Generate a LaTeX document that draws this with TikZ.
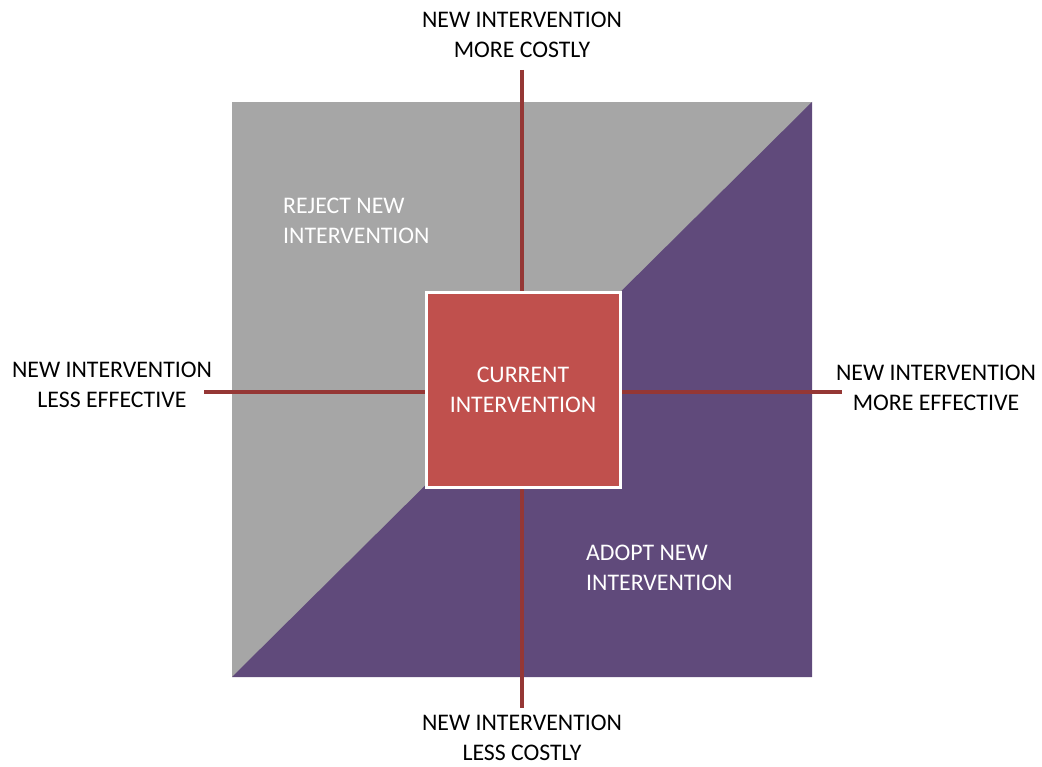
\documentclass[tikz,border=0pt]{standalone}
\usepackage{fontspec}
\setmainfont{Carlito}
\definecolor{rejectgray}{HTML}{A6A6A6}
\definecolor{adoptpurple}{HTML}{604A7B}
\definecolor{axisred}{HTML}{953735}
\definecolor{boxred}{HTML}{C0504D}
\begin{document}
\begin{tikzpicture}[x=1pt,y=-1pt,
  txt/.style={font=\fontsize{23.8}{29.5}\selectfont, inner sep=0pt},
  lbl/.style={txt, align=center, text=black},
  region/.style={txt, align=left, text=white, anchor=north west},
  axis/.style={draw=axisred, line width=4.5pt}]
\useasboundingbox (0,0) rectangle (1042,767);
% plane split along the diagonal
\fill[rejectgray] (232,102) rectangle (812,677);
\fill[adoptpurple] (232,677) -- (812,102) -- (812,677) -- cycle;
% axes
\coordinate (top) at (522,70);
\coordinate (bottom) at (522,708);
\coordinate (left) at (204,392);
\coordinate (right) at (842,392);
\draw[axis] (top) -- (bottom);
\draw[axis] (left) -- (right);
% origin box
\node[draw=white, line width=3pt, fill=boxred, minimum width=194pt, minimum height=194pt,
  txt, text=white, align=center] (cur) at (523,390)
  {CURRENT\\INTERVENTION};
% axis labels
\node[lbl] (ttop) at (522,35) {NEW INTERVENTION\\MORE COSTLY};
\node[lbl] (tbot) at (522,738) {NEW INTERVENTION\\LESS COSTLY};
\node[lbl] (tleft) at (112,385) {NEW INTERVENTION\\LESS EFFECTIVE};
\node[lbl] (tright) at (936,388) {NEW INTERVENTION\\MORE EFFECTIVE};
% region labels
\node[region] (reject) at (283,198) {REJECT NEW\\INTERVENTION};
\node[region] (adopt) at (586,545) {ADOPT NEW\\INTERVENTION};
\end{tikzpicture}
\end{document}
